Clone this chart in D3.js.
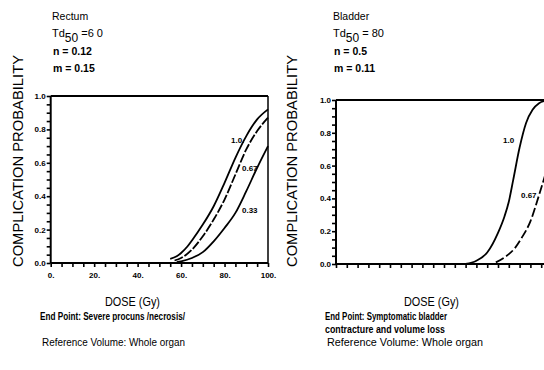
<!DOCTYPE html>
<html>
<head>
<meta charset="utf-8">
<script src="https://cdn.jsdelivr.net/npm/d3@7"></script>
<style>
  body { margin: 0; background: #fff; }
  svg { display: block; font-family: "Liberation Sans", Arial, sans-serif; }
</style>
</head>
<body>
<svg id="chart" width="544" height="370"></svg>
<script>
// rectum curves (dose Gy, complication probability)
const rectumDose10 = [55, 58, 60, 63, 65, 70, 75, 80, 85, 90, 95, 100];
const rectumProb10 = [0.025, 0.04, 0.06, 0.10, 0.135, 0.23, 0.34, 0.48, 0.63, 0.76, 0.86, 0.92];
const rectumDose067 = [57, 60, 65, 70, 75, 80, 85, 90, 95, 100];
const rectumProb067 = [0.015, 0.03, 0.08, 0.16, 0.26, 0.38, 0.53, 0.68, 0.79, 0.87];
const rectumDose033 = [58, 60, 65, 70, 75, 80, 85, 90, 95, 100];
const rectumProb033 = [0.005, 0.01, 0.03, 0.065, 0.13, 0.21, 0.30, 0.43, 0.57, 0.70];

// bladder curves
const bladderDose10 = [60, 65, 70, 75, 78, 80, 82, 85, 88, 91, 94, 97];
const bladderProb10 = [0, 0.02, 0.07, 0.19, 0.29, 0.38, 0.51, 0.71, 0.86, 0.94, 0.98, 0.995];
const bladderDose067 = [74, 78, 83, 86, 90, 94, 97];
const bladderProb067 = [0.01, 0.04, 0.10, 0.16, 0.26, 0.42, 0.55];

const xTickLabels = ["0.", "20.", "40.", "60.", "80.", "100."];
const yTickLabels = ["0.0", "0.2", "0.4", "0.6", "0.8", "1.0"];

const svg = d3.select("#chart");

function fitText(sel, w) {
  sel.attr("textLength", w).attr("lengthAdjust", "spacingAndGlyphs");
}

function drawPanel(p) {
  const x = d3.scaleLinear().domain([0, 100]).range([p.x0, p.x1]);
  const y = d3.scaleLinear().domain([0, 1]).range([p.yb, p.yt]);
  const g = svg.append("g");

  // frame
  g.append("line").attr("x1", x(0)).attr("x2", Math.min(x(100), 544)).attr("y1", y(1)).attr("y2", y(1))
    .attr("stroke", "#000").attr("stroke-width", 2);
  if (x(100) < 544) {
    g.append("line").attr("x1", x(100)).attr("x2", x(100)).attr("y1", y(1)).attr("y2", y(0))
      .attr("stroke", "#000").attr("stroke-width", 1.5);
  }

  // x axis
  const xTicks = d3.range(0, 101, 5).filter(d => x(d) <= 544);
  const xAxis = d3.axisBottom(x).tickValues(xTicks).tickSize(4)
    .tickFormat(d => (p.xLabels && d % 20 === 0) ? xTickLabels[d / 20] : "");
  const xa = g.append("g").attr("transform", `translate(0,${y(0)})`).call(xAxis);
  xa.select(".domain").attr("stroke-width", 2).attr("d", `M${x(0)},0H${Math.min(x(100), 544)}`);
  xa.selectAll(".tick line").attr("stroke-width", 1.6);
  xa.selectAll(".tick text").attr("font-size", 8).attr("font-weight", "bold")
    .attr("font-family", "Liberation Sans, Arial").attr("dy", "1.05em");

  // y axis
  const yAxis = d3.axisLeft(y).tickValues(d3.range(0, 1.001, 0.05)).tickSize(4)
    .tickFormat((d, i) => i % 4 === 0 ? yTickLabels[i / 4] : "");
  const ya = g.append("g").attr("transform", `translate(${x(0)},0)`).call(yAxis);
  ya.select(".domain").attr("stroke-width", 2).attr("d", `M0,${y(0)}V${y(1)}`);
  ya.selectAll(".tick line").attr("stroke-width", 1.6);
  ya.selectAll(".tick text").attr("font-size", 8).attr("font-weight", "bold")
    .attr("font-family", "Liberation Sans, Arial").attr("x", -5);

  // curves
  const line = d3.line().x(d => x(d[0])).y(d => y(d[1])).curve(d3.curveMonotoneX);
  p.curves.forEach(c => {
    const pts = c.dose.map((d, i) => [d, c.prob[i]]);
    g.append("path").datum(pts).attr("d", line).attr("fill", "none")
      .attr("stroke", "#000").attr("stroke-width", 1.8)
      .attr("stroke-dasharray", c.dash || null);
    g.append("text").attr("x", c.lx).attr("y", c.ly).attr("font-size", 8)
      .attr("font-weight", "bold").text(c.label);
  });

  // axis titles
  g.append("text").attr("transform", `translate(${p.ylabX},161) rotate(-90)`)
    .attr("text-anchor", "middle").attr("font-size", 14).text("COMPLICATION PROBABILITY")
    .call(fitText, 212);
  g.append("text").attr("x", p.doseX - 27).attr("y", 306)
    .attr("font-size", 13.5).text("DOSE (Gy)").call(fitText, 55);

  // header
  const h = g.append("g").attr("font-size", 10.5);
  h.append("text").attr("x", p.hx).attr("y", 20).text(p.organ);
  const td = h.append("text").attr("x", p.hx).attr("y", 37).attr("font-size", 11);
  td.append("tspan").text("Td");
  td.append("tspan").attr("dy", 5).attr("font-size", 12).text("50");
  td.append("tspan").attr("dy", -5).text(p.td50);
  h.append("text").attr("x", p.hx + 1).attr("y", 55).attr("font-weight", "bold").text(p.n);
  h.append("text").attr("x", p.hx + 1).attr("y", 72).attr("font-weight", "bold").text(p.m);

  // notes
  p.notes.forEach((t, i) => {
    g.append("text").attr("x", p.noteX).attr("y", 320 + i * 13).attr("font-size", 10.5)
      .attr("font-weight", "bold").text(t).call(fitText, p.noteW[i]);
  });
  g.append("text").attr("x", p.noteX + 2).attr("y", 346).attr("font-size", 10.5)
    .text("Reference Volume: Whole organ").call(fitText, p.refW);
}

drawPanel({
  x0: 50.7, x1: 268, yt: 96, yb: 263, xLabels: true,
  ylabX: 23, doseX: 132, hx: 52, noteX: 40,
  organ: "Rectum", td50: " =6 0", n: "n = 0.12", m: "m = 0.15",
  notes: ["End Point: Severe procuns /necrosis/"], noteW: [145], refW: 143,
  curves: [
    { dose: rectumDose10, prob: rectumProb10, label: "1.0.", lx: 231, ly: 143 },
    { dose: rectumDose067, prob: rectumProb067, label: "0.67", lx: 242, ly: 171, dash: "9,2" },
    { dose: rectumDose033, prob: rectumProb033, label: "0.33", lx: 242, ly: 213 }
  ]
});

drawPanel({
  x0: 336, x1: 552, yt: 100, yb: 264, xLabels: false,
  ylabX: 297, doseX: 431, hx: 333, noteX: 325,
  organ: "Bladder", td50: " = 80", n: "n = 0.5", m: "m = 0.11",
  notes: ["End Point: Symptomatic bladder", "contracture and volume loss"], noteW: [122, 120], refW: 156,
  curves: [
    { dose: bladderDose10, prob: bladderProb10, label: "1.0", lx: 503, ly: 143 },
    { dose: bladderDose067, prob: bladderProb067, label: "0.67", lx: 521, ly: 198, dash: "9,3" }
  ]
});
</script>
</body>
</html>
